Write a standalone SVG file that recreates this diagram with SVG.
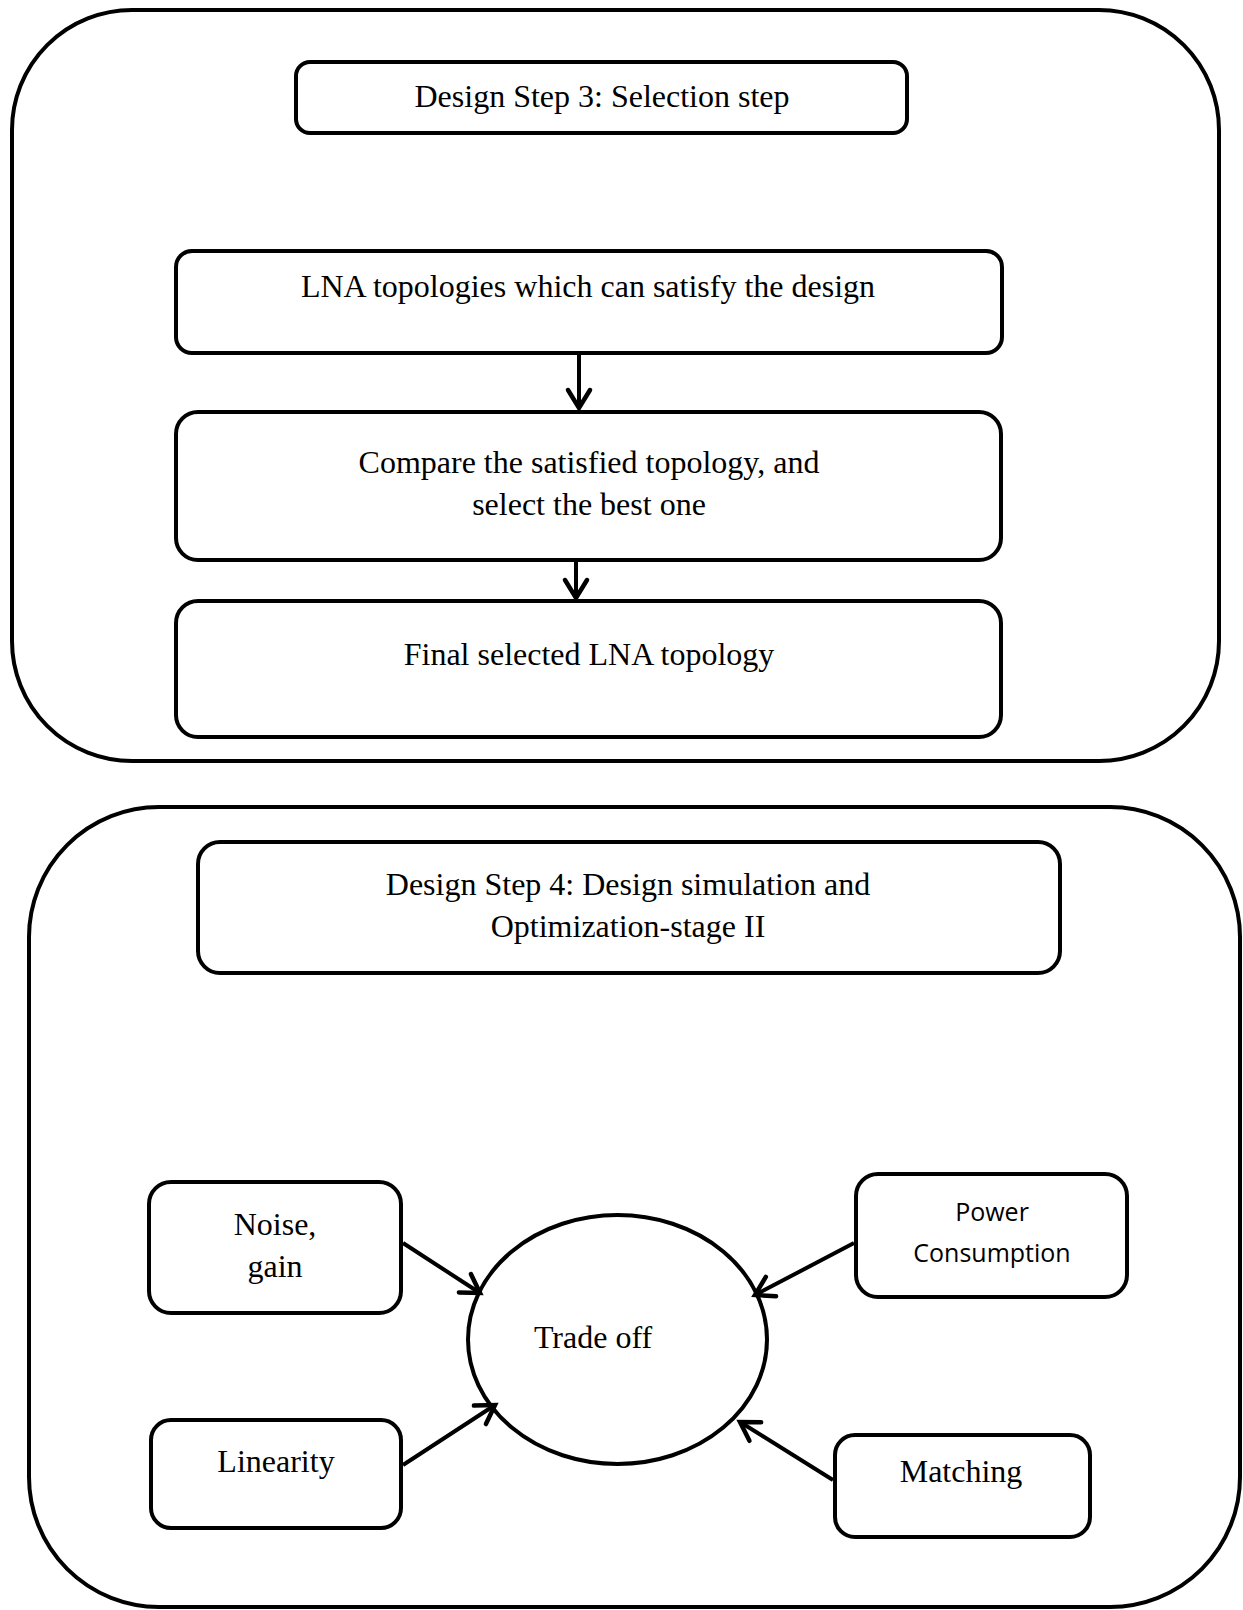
<svg xmlns="http://www.w3.org/2000/svg" width="1243" height="1610" viewBox="0 0 1243 1610">
  <style>
    .frame { fill: none; stroke: #000; stroke-width: 4; }
    .box { fill: #fff; stroke: #000; stroke-width: 4; }
    .serif { font-family: "Liberation Serif", "Times New Roman", serif; font-size: 32px; fill: #000; text-anchor: middle; }
    .sans { font-family: "Open Sans", "Noto Sans", sans-serif; font-size: 25px; fill: #000; text-anchor: middle; }
    .link { fill: none; stroke: #000; stroke-width: 4; }
  </style>
  <defs>
    <marker id="chevron" markerUnits="userSpaceOnUse" markerWidth="40" markerHeight="40" refX="0" refY="0" orient="auto" overflow="visible">
      <path d="M -18 -11 L 0 0 L -18 11" fill="none" stroke="#000" stroke-width="4.5" stroke-linecap="round" stroke-linejoin="miter"/>
    </marker>
  </defs>
  <rect width="1243" height="1610" fill="#fff"/>

  <!-- Stage 3 container -->
  <g id="stage3">
    <rect class="frame" x="12" y="10" width="1207" height="751" rx="120" ry="120"/>
  </g>

  <g id="step3-title">
    <rect class="box" x="296" y="62" width="611" height="71" rx="14" ry="14"/>
    <text class="serif" x="602" y="107">Design Step 3: Selection step</text>
  </g>

  <g id="candidate-topologies">
    <rect class="box" x="176" y="251" width="826" height="102" rx="16" ry="16"/>
    <text class="serif" x="588" y="297">LNA topologies which can satisfy the design</text>
  </g>

  <g id="compare-topologies">
    <rect class="box" x="176" y="412" width="825" height="148" rx="22" ry="22"/>
    <text class="serif" x="589" y="473">Compare the satisfied topology, and</text>
    <text class="serif" x="589" y="515">select the best one</text>
  </g>

  <g id="final-topology">
    <rect class="box" x="176" y="601" width="825" height="136" rx="22" ry="22"/>
    <text class="serif" x="589" y="665">Final selected LNA topology</text>
  </g>

  <!-- Stage 4 container -->
  <g id="stage4">
    <rect class="frame" x="29" y="807" width="1211" height="800" rx="130" ry="130"/>
  </g>

  <g id="step4-title">
    <rect class="box" x="198" y="842" width="862" height="131" rx="22" ry="22"/>
    <text class="serif" x="628" y="895">Design Step 4: Design simulation and</text>
    <text class="serif" x="628" y="937">Optimization-stage II</text>
  </g>

  <g id="noise-gain">
    <rect class="box" x="149" y="1182" width="252" height="131" rx="22" ry="22"/>
    <text class="serif" x="275" y="1235">Noise,</text>
    <text class="serif" x="275" y="1277">gain</text>
  </g>

  <g id="linearity">
    <rect class="box" x="151" y="1420" width="250" height="108" rx="20" ry="20"/>
    <text class="serif" x="276" y="1472">Linearity</text>
  </g>

  <g id="trade-off">
    <ellipse class="box" cx="617.5" cy="1339.5" rx="149.5" ry="124.5"/>
    <text class="serif" x="593" y="1348">Trade off</text>
  </g>

  <g id="power-consumption">
    <rect class="box" x="856" y="1174" width="271" height="123" rx="22" ry="22"/>
    <text class="sans" x="992" y="1221">Power</text>
    <text class="sans" x="992" y="1262">Consumption</text>
  </g>

  <g id="matching">
    <rect class="box" x="835" y="1435" width="255" height="102" rx="20" ry="20"/>
    <text class="serif" x="961" y="1482">Matching</text>
  </g>

  <!-- Connectors -->
  <g id="connectors">
    <line class="link" x1="579" y1="355" x2="579" y2="408" marker-end="url(#chevron)"/>
    <line class="link" x1="576" y1="562" x2="576" y2="598" marker-end="url(#chevron)"/>
    <line class="link" x1="403" y1="1243" x2="480" y2="1293" marker-end="url(#chevron)"/>
    <line class="link" x1="403" y1="1465" x2="495" y2="1405" marker-end="url(#chevron)"/>
    <line class="link" x1="854" y1="1243" x2="755" y2="1295" marker-end="url(#chevron)"/>
    <line class="link" x1="833" y1="1480" x2="740" y2="1422" marker-end="url(#chevron)"/>
  </g>
</svg>
